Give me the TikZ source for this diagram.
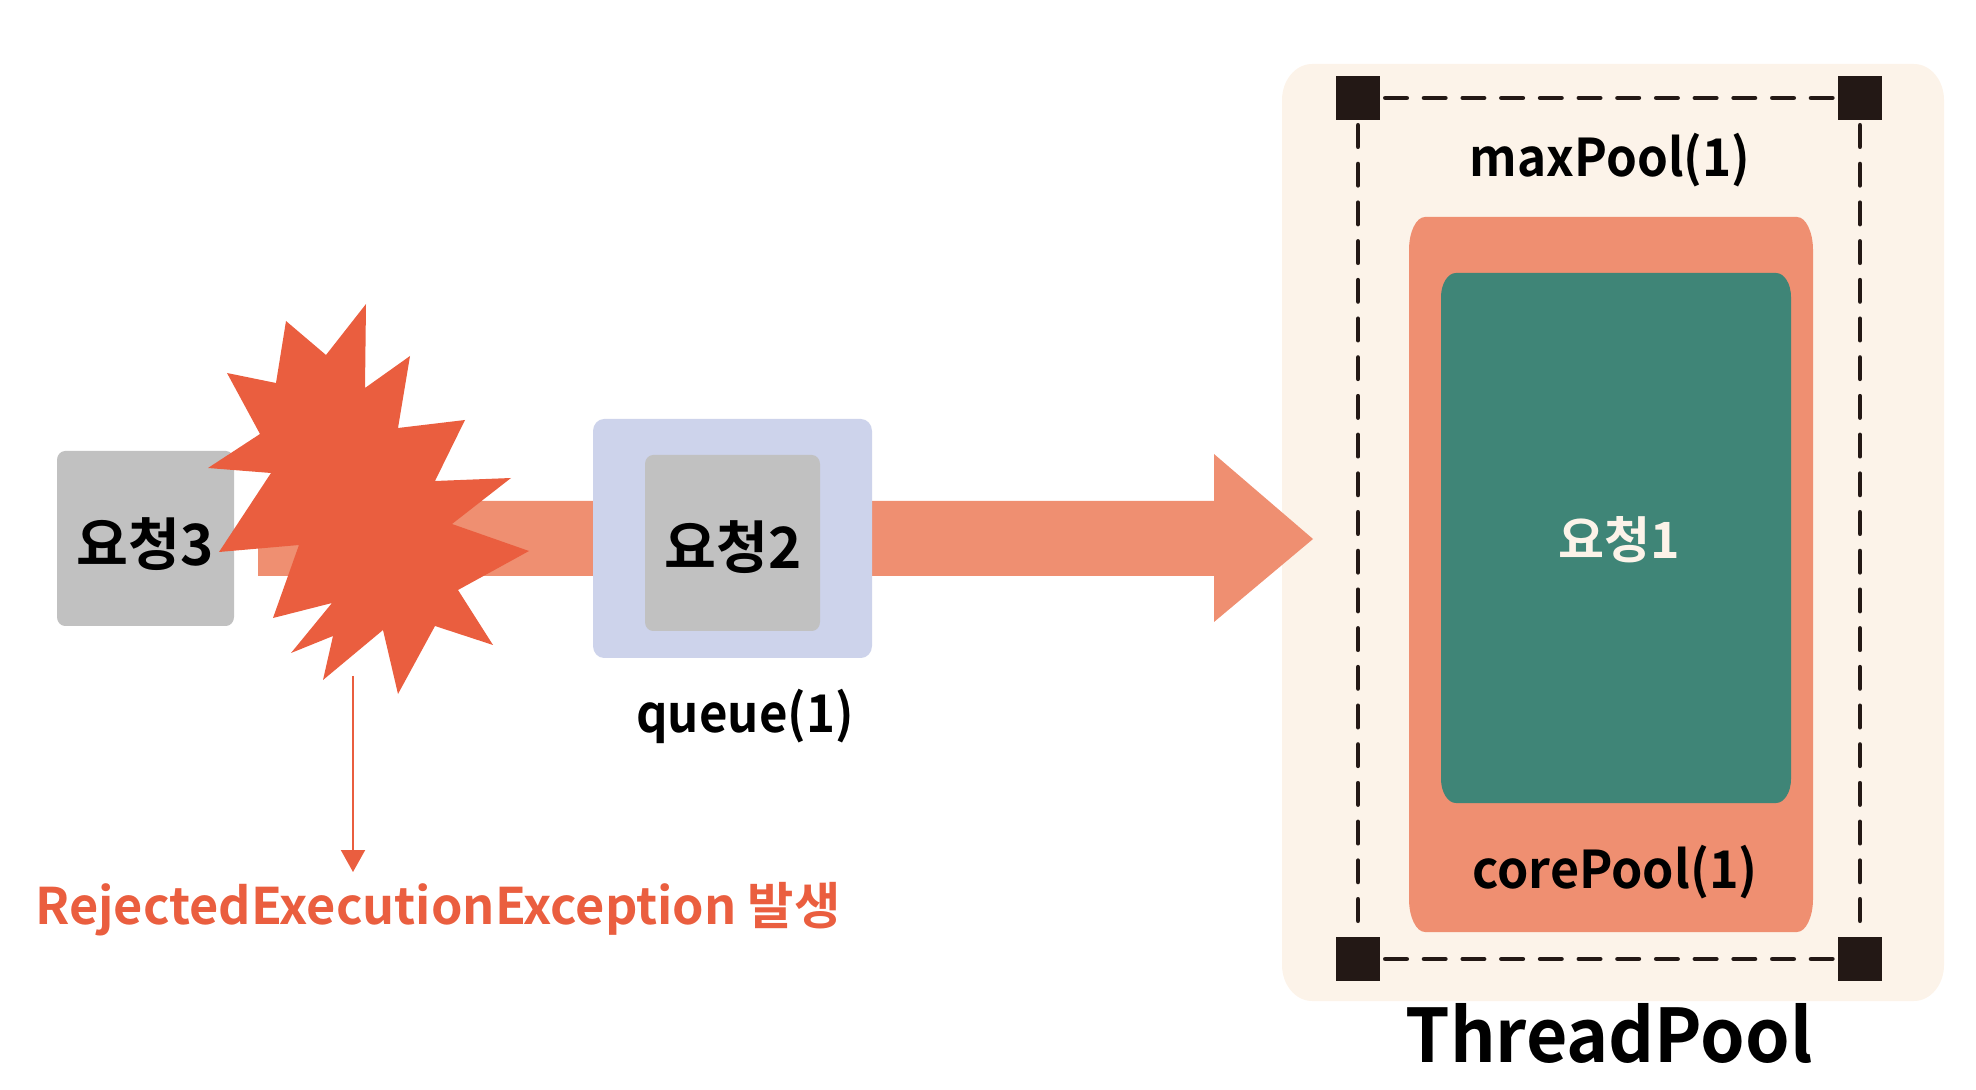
\documentclass[tikz,border=0pt]{standalone}
\usepackage{fontspec}
\usepackage{graphicx}
\setmainfont{Noto Sans CJK KR Bold}
\usetikzlibrary{arrows.meta}
\definecolor{flow}{HTML}{EF8F71}
\definecolor{burst}{HTML}{EA5E3F}
\definecolor{queuebg}{HTML}{CDD3EB}
\definecolor{reqgray}{HTML}{C1C1C1}
\definecolor{cream}{HTML}{FCF3E9}
\definecolor{teal}{HTML}{3F8577}
\definecolor{ink}{HTML}{231815}
\newcommand{\softbox}[7]{% colour,x1,y1,x2,y2,rx,ry
  \fill[#1] ({#2+#6},#3) -- ({#4-#6},#3)
    .. controls ({#4-0.45*#6},#3) and (#4,{#3+0.45*#7}) .. (#4,{#3+#7})
    -- (#4,{#5-#7})
    .. controls (#4,{#5-0.45*#7}) and ({#4-0.45*#6},#5) .. ({#4-#6},#5)
    -- ({#2+#6},#5)
    .. controls ({#2+0.45*#6},#5) and (#2,{#5-0.45*#7}) .. (#2,{#5-#7})
    -- (#2,{#3+#7})
    .. controls (#2,{#3+0.45*#7}) and ({#2+0.45*#6},#3) .. ({#2+#6},#3) -- cycle;}
\newcommand{\narrow}[2]{\scalebox{#1}[1]{#2}}
\tikzset{
  lbl/.style={inner sep=0pt,text=black,font=\fontsize{#1}{#1}\selectfont},
  corner/.style={fill=ink,inner sep=0pt,minimum width=22pt,minimum height=22pt},
  bound/.style={draw=ink,line width=2.4pt,line cap=round,dash pattern=on 10.6pt off 8.75pt,shorten >=2.5pt,shorten <=2.5pt}
}
\begin{document}
\begin{tikzpicture}[x=0.5pt,y=-0.5pt]
\useasboundingbox (0,0) rectangle (1976,1090);
% thread pool backdrop
\softbox{cream}{1282}{64}{1944}{1001}{30}{36}
% main flow arrow
\fill[flow] (258,501) -- (1214,501) -- (1214,454) -- (1313,539) -- (1214,622) -- (1214,576) -- (258,576) -- cycle;
% request 3
\softbox{reqgray}{57}{451}{234}{626}{8}{9}
\node[lbl=28.5pt] (r3) at (145,544) {\narrow{0.99}{요청3}};
% burst
\fill[burst] (366,304)--(365,388)--(410,356)--(398,428)--(465,420)--(435,481)--(511,478)--(452,524)--(529,551)--(458,590)--(493,645)--(435,626)--(398,694)--(383,630)--(323,680)--(333,636)--(291,653)--(332,603)--(273,618)--(299,545)--(219,552)--(271,473)--(208,468)--(260,434)--(227,373)--(276,383)--(286,321)--(326,355)--cycle;
% queue
\softbox{queuebg}{593}{419}{872}{658}{11}{12}
\softbox{reqgray}{645}{455}{820}{631}{8}{9}
\node[lbl=28.5pt] (r2) at (733,547) {\narrow{0.99}{요청2}};
\node[lbl=26pt] (qlabel) at (745,716) {\narrow{0.945}{queue(1)}};
% exception
\coordinate (exstart) at (353,676);
\coordinate (exend) at (353,872);
\draw[burst,line width=1pt,-{Triangle[length=11pt,width=12pt]}] (exstart) -- (exend);
\node[lbl=25.2pt,text=burst] (exlabel) at (438,909) {RejectedExecutionException 발생};
% pools
\softbox{flow}{1409}{217}{1813}{932}{16}{33}
\softbox{teal}{1441}{273}{1791}{803}{15}{24}
\node[lbl=25pt,text=cream] (r1) at (1619,540) {요청1};
\node[lbl=26pt] (corelabel) at (1615,872) {\narrow{0.965}{corePool(1)}};
\node[lbl=26pt] (maxlabel) at (1610,160) {\narrow{0.95}{maxPool(1)}};
\node[lbl=37pt] (tplabel) at (1609,1033) {\narrow{0.965}{ThreadPool}};
% boundary
\node[corner] (tl) at (1358,98) {};
\node[corner] (tr) at (1860,98) {};
\node[corner] (bl) at (1358,959) {};
\node[corner] (br) at (1860,959) {};
\draw[bound] (tl) -- (tr);
\draw[bound] (bl) -- (br);
\draw[bound] (tl) -- (bl);
\draw[bound] (tr) -- (br);
\end{tikzpicture}
\end{document}
